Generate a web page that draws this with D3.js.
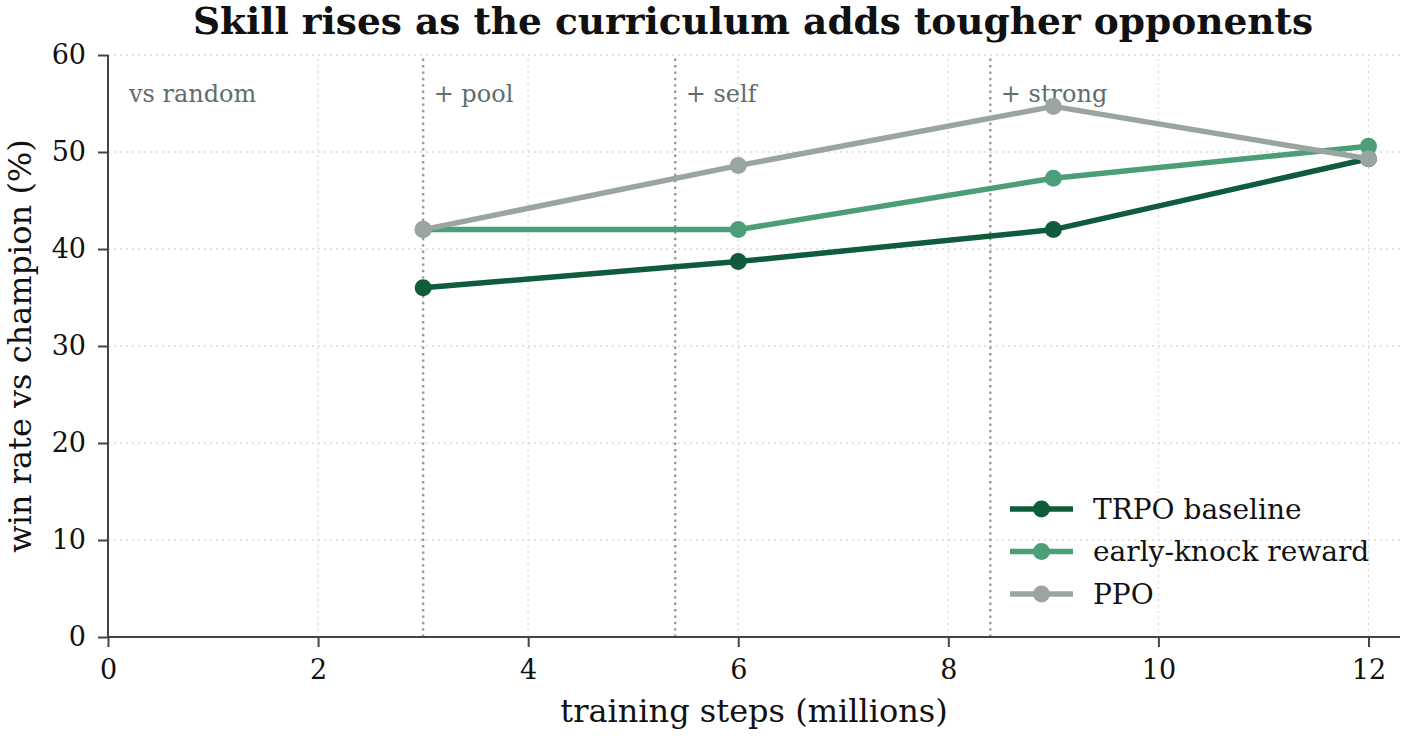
<!DOCTYPE html>
<html>
<head>
<meta charset="utf-8">
<script src="https://cdn.jsdelivr.net/npm/d3@7"></script>
<style>
  body { margin: 0; background: #fff; }
  svg { font-family: "DejaVu Serif", serif; }
</style>
</head>
<body>
<div id="chart"></div>
<script>
const steps = [3, 6, 9, 12]
const trpo = [36, 38.7, 42, 49.3]
const earlyKnock = [42, 42, 47.3, 50.6]
const ppo = [42, 48.6, 54.7, 49.3]
const seriesNames = ['TRPO baseline', 'early-knock reward', 'PPO']
const colors = ['#0e5c3b', '#4b9e78', '#9ba5a0']
const phaseStarts = [3, 5.4, 8.4]
const phaseLabels = ['vs random', '+ pool', '+ self', '+ strong']
const phaseLabelX = [0.2, 3.1, 5.5, 8.5]
const xTicks = [0, 2, 4, 6, 8, 10, 12]
const yTicks = [0, 10, 20, 30, 40, 50, 60]

const w = 1405
const h = 736
const m = { left: 108, right: 5, top: 55, bottom: 99 }

const svg = d3.select('#chart').append('svg').attr('width', w).attr('height', h)

const x = d3.scaleLinear().domain([0, 12.3]).range([m.left, w - m.right])
const y = d3.scaleLinear().domain([0, 60]).range([h - m.bottom, m.top])

// grid
svg.append('g').selectAll('line')
    .data(xTicks)
    .enter()
    .append('line')
    .attr('x1', d => x(d)).attr('x2', d => x(d))
    .attr('y1', y(0)).attr('y2', y(60))
    .attr('stroke', '#d9d9d9').attr('stroke-width', 1.3)
    .attr('stroke-dasharray', '2,4')
svg.append('g').selectAll('line')
    .data(yTicks)
    .enter()
    .append('line')
    .attr('x1', x(0)).attr('x2', x(12.3))
    .attr('y1', d => y(d)).attr('y2', d => y(d))
    .attr('stroke', '#d9d9d9').attr('stroke-width', 1.3)
    .attr('stroke-dasharray', '2,4')

// curriculum phases
svg.append('g').selectAll('line')
    .data(phaseStarts)
    .enter()
    .append('line')
    .attr('x1', d => x(d)).attr('x2', d => x(d))
    .attr('y1', y(0)).attr('y2', y(60))
    .attr('stroke', '#999').attr('stroke-width', 2.4)
    .attr('stroke-dasharray', '2.4,4')
svg.append('g').selectAll('text')
    .data(phaseLabels)
    .enter()
    .append('text')
    .attr('x', (d, i) => x(phaseLabelX[i]))
    .attr('y', y(56))
    .attr('dy', '0.35em')
    .attr('font-size', 24)
    .attr('fill', '#5f6e6c')
    .text(d => d)

// axes
const xAxis = svg.append('g')
    .attr('transform', `translate(0,${y(0)})`)
    .call(d3.axisBottom(x).tickValues(xTicks).tickSize(10).tickPadding(13))
const yAxis = svg.append('g')
    .attr('transform', `translate(${x(0)},0)`)
    .call(d3.axisLeft(y).tickValues(yTicks).tickSize(10).tickPadding(12))
;[xAxis, yAxis].forEach(a => {
    a.selectAll('path, line').attr('stroke', '#444').attr('stroke-width', 2)
    a.selectAll('text').attr('font-family', 'DejaVu Serif').attr('font-size', 27).attr('fill', '#111')
})
xAxis.select('.domain').attr('d', `M${x(0)},0H${x(12.3)}`)
yAxis.select('.domain').attr('d', `M0,${y(0)}V${y(60)}`)

svg.append('text')
    .attr('x', (x(0) + x(12.3)) / 2).attr('y', 722)
    .attr('text-anchor', 'middle').attr('font-size', 32).attr('fill', '#111')
    .text('training steps (millions)')
svg.append('text')
    .attr('transform', `translate(31,${(y(0) + y(60)) / 2}) rotate(-90)`)
    .attr('text-anchor', 'middle').attr('font-size', 32).attr('fill', '#111')
    .text('win rate vs champion (%)')
svg.append('text')
    .attr('x', 753).attr('y', 34)
    .attr('text-anchor', 'middle').attr('font-size', 37.5).attr('font-weight', 'bold').attr('fill', '#111')
    .text('Skill rises as the curriculum adds tougher opponents')

// series
const allSeries = [trpo, earlyKnock, ppo]
const line = d3.line().x((d, i) => x(steps[i])).y(d => y(d))
allSeries.forEach((vals, k) => {
    svg.append('path')
        .datum(vals)
        .attr('d', line)
        .attr('fill', 'none')
        .attr('stroke', colors[k])
        .attr('stroke-width', 5.5)
        .attr('stroke-linejoin', 'round')
    svg.append('g').selectAll('circle')
        .data(vals)
        .enter()
        .append('circle')
        .attr('cx', (d, i) => x(steps[i]))
        .attr('cy', d => y(d))
        .attr('r', 8.5)
        .attr('fill', colors[k])
})

// legend
const legend = svg.append('g').attr('transform', 'translate(1010,509)')
seriesNames.forEach((name, k) => {
    const row = legend.append('g').attr('transform', `translate(0,${k * 42.5})`)
    row.append('line').attr('x1', 0).attr('x2', 63).attr('y1', 0).attr('y2', 0)
        .attr('stroke', colors[k]).attr('stroke-width', 5.5)
    row.append('circle').attr('cx', 31.5).attr('cy', 0).attr('r', 8.5).attr('fill', colors[k])
    row.append('text').attr('x', 83).attr('y', 0).attr('dy', '0.35em')
        .attr('font-size', 28).attr('fill', '#111').text(name)
})
</script>
</body>
</html>
